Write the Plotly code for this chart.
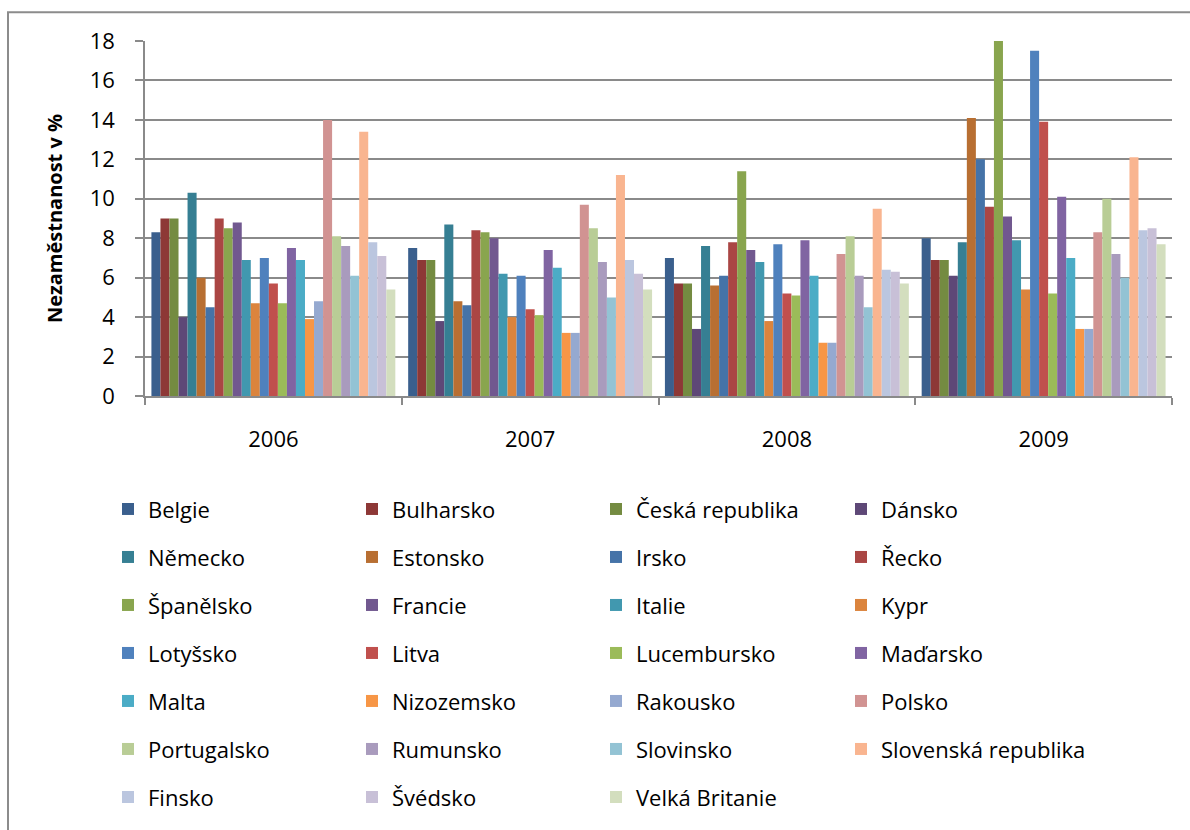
import plotly.graph_objects as go

years = ["2006", "2007", "2008", "2009"]

countries = [
    "Belgie", "Bulharsko", "Česká republika", "Dánsko",
    "Německo", "Estonsko", "Irsko", "Řecko",
    "Španělsko", "Francie", "Italie", "Kypr",
    "Lotyšsko", "Litva", "Lucembursko", "Maďarsko",
    "Malta", "Nizozemsko", "Rakousko", "Polsko",
    "Portugalsko", "Rumunsko", "Slovinsko", "Slovenská republika",
    "Finsko", "Švédsko", "Velká Britanie",
]

# unemployment rate (%) per country, values for 2006, 2007, 2008, 2009
belgie = [8.3, 7.5, 7.0, 8.0]
bulharsko = [9.0, 6.9, 5.7, 6.9]
ceska_republika = [9.0, 6.9, 5.7, 6.9]
dansko = [4.0, 3.8, 3.4, 6.1]
nemecko = [10.3, 8.7, 7.6, 7.8]
estonsko = [6.0, 4.8, 5.6, 14.1]
irsko = [4.5, 4.6, 6.1, 12.0]
recko = [9.0, 8.4, 7.8, 9.6]
spanelsko = [8.5, 8.3, 11.4, 18.0]
francie = [8.8, 8.0, 7.4, 9.1]
italie = [6.9, 6.2, 6.8, 7.9]
kypr = [4.7, 4.0, 3.8, 5.4]
lotyssko = [7.0, 6.1, 7.7, 17.5]
litva = [5.7, 4.4, 5.2, 13.9]
lucembursko = [4.7, 4.1, 5.1, 5.2]
madarsko = [7.5, 7.4, 7.9, 10.1]
malta = [6.9, 6.5, 6.1, 7.0]
nizozemsko = [3.9, 3.2, 2.7, 3.4]
rakousko = [4.8, 3.2, 2.7, 3.4]
polsko = [14.0, 9.7, 7.2, 8.3]
portugalsko = [8.1, 8.5, 8.1, 10.0]
rumunsko = [7.6, 6.8, 6.1, 7.2]
slovinsko = [6.1, 5.0, 4.5, 6.0]
slovenska_republika = [13.4, 11.2, 9.5, 12.1]
finsko = [7.8, 6.9, 6.4, 8.4]
svedsko = [7.1, 6.2, 6.3, 8.5]
velka_britanie = [5.4, 5.4, 5.7, 7.7]

values = [
    belgie, bulharsko, ceska_republika, dansko,
    nemecko, estonsko, irsko, recko,
    spanelsko, francie, italie, kypr,
    lotyssko, litva, lucembursko, madarsko,
    malta, nizozemsko, rakousko, polsko,
    portugalsko, rumunsko, slovinsko, slovenska_republika,
    finsko, svedsko, velka_britanie,
]

colors = [
    "#3A5F8D", "#8D3836", "#748B41", "#5E4877", "#367F93", "#B86F32",
    "#4573A8", "#AA4644", "#89A54E", "#71588F", "#4198AF", "#DB843D",
    "#4F81BD", "#C0504D", "#9BBB59", "#8064A2", "#4BACC6", "#F79646",
    "#95A9D0", "#D19392", "#B9CD96", "#A99BBD", "#93C3D4", "#F9B590",
    "#BBC6DF", "#C8C0D7", "#D3DEBE",
]

FONT = "Open Sans"
FS = 22
GRID = "#8A8A8A"

fig = go.Figure()
legend_keys = ["legend", "legend2", "legend3", "legend4"]
for i, (name, vals, col) in enumerate(zip(countries, values, colors)):
    fig.add_trace(go.Bar(
        x=years, y=vals, name=name,
        marker=dict(color=col, line=dict(width=0)),
        legend=legend_keys[i % 4],
        legendgroup=name,
    ))

# plot area in pixels: x 145..1172, y 41..400
L, R, T, B = 145, 1172, 41, 400
W, H = R - L, B - T


def px_x(p):
    return (p - L) / W


def px_y(p):
    return (B - p) / H


item_h = FS * 1.3 + 3
legend_style = dict(
    orientation="v",
    yanchor="top",
    xanchor="left",
    y=px_y(510 - item_h / 2 - 1),
    font=dict(family=FONT, size=FS, color="black"),
    tracegroupgap=48 - item_h,
    bgcolor="rgba(0,0,0,0)",
    itemclick=False,
    itemdoubleclick=False,
)
col_text_x = [148, 392, 636, 881]
legends = {}
for key, tx in zip(legend_keys, col_text_x):
    legends[key] = dict(legend_style, x=px_x(tx - 40))

fig.update_layout(
    width=1190,
    height=830,
    margin=dict(l=L, r=1190 - R, t=T, b=830 - B),
    paper_bgcolor="white",
    plot_bgcolor="white",
    barmode="group",
    bargap=0.05,
    bargroupgap=0,
    showlegend=True,
    font=dict(family=FONT, size=FS, color="black"),
    **legends,
    xaxis=dict(
        type="category",
        showline=True,
        linecolor=GRID,
        linewidth=2,
        ticks="outside",
        tickson="boundaries",
        ticklen=7,
        tickwidth=2,
        tickcolor=GRID,
        ticklabelstandoff=23,
        tickfont=dict(family=FONT, size=FS, color="black"),
        showgrid=False,
        zeroline=False,
    ),
    yaxis=dict(
        range=[0, 18],
        dtick=2,
        showline=True,
        linecolor=GRID,
        linewidth=1.5,
        ticks="outside",
        ticklen=8,
        tickwidth=1.5,
        tickcolor=GRID,
        ticklabelstandoff=16,
        tickfont=dict(family=FONT, size=FS, color="black"),
        showgrid=True,
        gridcolor=GRID,
        gridwidth=2,
        zeroline=False,
        title=dict(
            text="<b>Nezaměstnanost v %</b>",
            font=dict(family=FONT, size=20, color="black"),
            standoff=22,
        ),
    ),
    shapes=[
        dict(
            type="rect", xref="paper", yref="paper",
            x0=px_x(8), x1=px_x(1200), y0=px_y(840), y1=px_y(12),
            line=dict(color="#8C8C8C", width=2),
            fillcolor="rgba(0,0,0,0)",
            layer="below",
        )
    ],
)

fig.write_html("out.html")
